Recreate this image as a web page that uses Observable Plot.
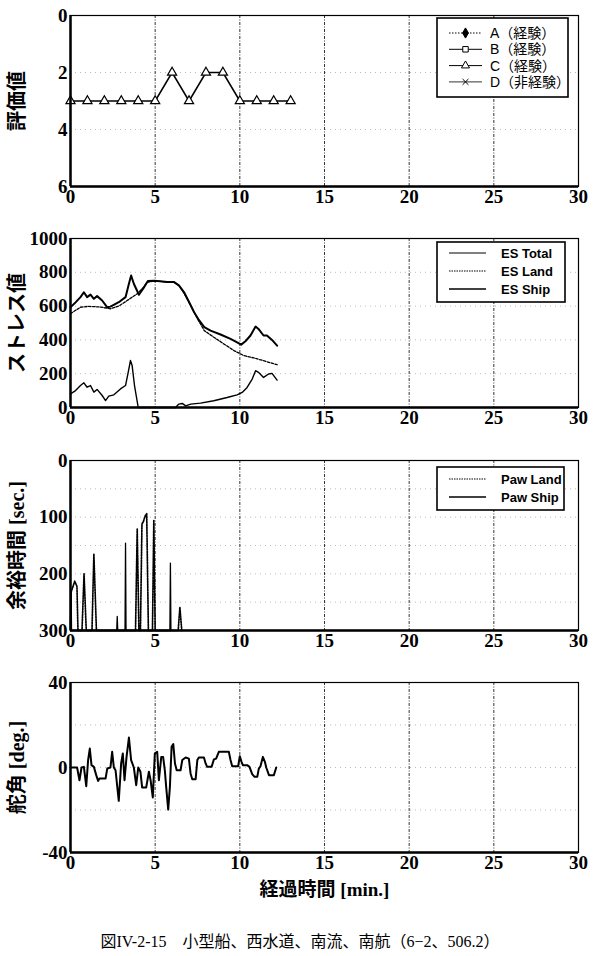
<!DOCTYPE html>
<html><head><meta charset="utf-8">
<script src="https://cdn.jsdelivr.net/npm/d3@7"></script>
<script src="https://cdn.jsdelivr.net/npm/@observablehq/plot@0.6"></script>
<style>
body{margin:0;background:#fff;}
#wrap{position:relative;width:600px;height:956px;background:#fff;overflow:hidden}
#wrap > svg{position:absolute;left:0}
.caption{position:absolute;top:932px;left:0;width:600px;text-align:center;line-height:20px;font-family:"Liberation Serif","Noto Sans CJK JP",serif;font-size:16px;color:#000}
</style></head><body><div id="wrap"></div><script>
// ---------- data ----------
const xTicks = [0, 5, 10, 15, 20, 25, 30];
const xGrid = [5, 10, 15, 20, 25];

// Panel 1: 評価値 (series C only has data)
const evalMinutes = [0,1,2,3,4,5,6,7,8,9,10,11,12,13];
const evalC = [3,3,3,3,3,3,2,3,2,2,3,3,3,3];
const evalTicks = [0, 2, 4, 6];
const evalLegend = ["A（経験）", "B（経験）", "C（経験）", "D（非経験）"];

// Panel 2: ストレス値
const esTotalT = [0,0.3,0.59,0.79,0.98,1.18,1.38,1.57,1.87,2.17,2.36,2.85,3.25,3.45,3.58,3.74,4.04,4.3,4.57,4.92,5.3,5.7,6.1,6.4,6.7,7.0,7.3,7.6,7.9,8.27,8.86,9.45,9.84,10.08,10.33,10.63,10.93,11.1,11.4,11.6,11.9,12.2];
const esTotal  = [593,622,653,682,653,668,643,659,633,593,597,623,653,732,781,732,667,705,748,750,747,743,743,723,683,624,564,515,475,455,432,406,386,372,392,426,479,465,426,426,400,366];
const esLandT = [0,0.3,0.59,1.0,1.38,1.8,2.36,2.85,3.35,3.94,4.3,4.53,4.92,5.3,5.7,6.1,6.4,6.7,7.1,7.5,7.9,8.46,9.06,9.65,10.24,10.83,11.4,12.2];
const esLand  = [555,575,593,598,597,594,584,600,633,673,710,741,748,746,742,742,722,677,604,525,455,416,376,337,307,293,277,253];
const esShipT = [0,0.3,0.59,0.79,0.98,1.18,1.38,1.57,1.87,2.07,2.26,2.56,2.95,3.25,3.41,3.54,3.64,3.78,4.0,6.2,6.4,6.6,6.8,7.1,7.68,8.46,9.25,9.84,10.14,10.43,10.73,10.93,11.1,11.4,11.7,11.9,12.2];
const esShip  = [81,100,130,146,120,130,91,107,71,41,67,75,110,130,209,278,248,130,0,0,20,24,10,20,26,40,59,75,89,119,168,218,208,178,198,202,162];
const esTicks = [0, 200, 400, 600, 800, 1000];
const esLegend = ["ES Total", "ES Land", "ES Ship"];

// Panel 3: 余裕時間 [sec.]
const pawLandT = [0,0.04,0.25,0.38,0.44,0.68,0.8,0.93,1.27,1.38,1.53,3.84,3.94,4.04,4.13,4.22,4.3,4.42,4.5,4.6,4.84,4.92,5.0,6.36,6.46,6.57];
const pawLand  = [300,232,213,222,300,300,200,300,300,165,300,300,121,300,300,112,108,97,94,300,300,105,300,300,259,300];
const pawShipT = [0,0.02,0.04,0.06,2.73,2.76,2.79,3.22,3.25,3.28,5.87,5.9,5.93];
const pawShip  = [300,300,234,300,300,275,300,300,146,300,300,181,300];
const pawTicks = [0, 100, 200, 300];
const pawGrid = [50, 100, 150, 200, 250];
const pawLegend = ["Paw Land", "Paw Ship"];

// Panel 4: 舵角 [deg.]
const rudderT = [0,0.39,0.53,0.65,0.79,0.93,1.04,1.14,1.24,1.38,1.52,1.63,1.71,2.07,2.17,2.36,2.46,2.56,2.66,2.85,2.99,3.09,3.19,3.31,3.45,3.58,3.74,3.88,4.0,4.13,4.23,4.47,4.63,4.73,4.86,4.98,5.12,5.22,5.36,5.47,5.57,5.65,5.77,5.87,5.97,6.07,6.17,6.27,6.5,6.6,6.8,6.99,7.09,7.19,7.39,7.49,7.58,7.88,7.98,8.07,8.33,8.47,8.6,8.76,9.35,9.45,9.55,9.9,10.0,10.1,10.18,10.43,10.57,10.73,10.87,11.03,11.12,11.22,11.36,11.48,11.56,11.72,12.01,12.15];
const rudder  = [0,0,-6,0,0.3,-8.8,3.5,8.9,1.1,0.3,-3.6,-6.3,-5.2,-5.2,-0.5,0,7.4,0,-1.3,-15.7,1.9,6.6,-6,5,14.1,3.5,0,-8.3,0,-2,-9.4,-9.4,-2,-6,-14.1,6.6,7.4,-6,5,5,-1.3,-9.1,-19.8,-9.1,9.7,11,1.9,-1.3,-1.3,3.5,4.7,4.2,-2.8,-5.5,-5.5,3.5,4.7,4.7,1.9,0.3,0.3,3.8,4.2,7.4,7.4,3.5,0.6,0.6,5.3,2.7,1.1,1.1,0.3,-3.1,-4.4,-4.4,-0.5,0.6,5,2.7,0,-3.6,-3.6,0];
const rudderTicks = [-40, 0, 40];
const rudderGrid = [-20, 0, 20];

const yLabels = ["評価値", "ストレス値", "余裕時間 [sec.]", "舵角 [deg.]"];
const xLabel = "経過時間 [min.]";
const caption = "図IV-2-15　小型船、西水道、南流、南航（6−2、506.2）";

// ---------- helpers ----------
const toRows = (ts, vs) => ts.map((t, i) => ({t, v: vs[i]}));
const SERIF = "'Liberation Serif','Noto Sans CJK JP',serif";
const plain = d => String(d);
const wrap = document.getElementById("wrap");

function panel({top, frameH, mb = 30, yDomain, reverse = false, bottom, yTicks, yGrid, yLabel, marks, extra = []}) {
  const mt = 15;
  const svg = Plot.plot({
    width: 600, height: mt + frameH + mb,
    marginLeft: 70, marginRight: 22, marginTop: mt, marginBottom: mb,
    style: {fontFamily: SERIF, fontSize: "19px", fontWeight: "bold", background: "transparent", color: "#000"},
    x: {domain: [0, 30]},
    y: {domain: yDomain, reverse},
    marks: [
      Plot.ruleY(yGrid, {stroke: "#bbb", strokeDasharray: "1,4", strokeWidth: 1}),
      Plot.ruleX(xGrid, {stroke: "#333", strokeDasharray: "3,1.5,1,1.5", strokeWidth: 1}),
      ...marks,
      Plot.frame({stroke: "#000", strokeWidth: 1.2}),
      Plot.ruleX([0], {stroke: "#000", strokeWidth: 2.5}),
      Plot.ruleY([bottom], {stroke: "#000", strokeWidth: 2.5}),
      Plot.axisX(xTicks, {tickSize: 0, tickPadding: 3, label: null, tickFormat: plain}),
      Plot.axisY(yTicks, {tickSize: 0, tickPadding: 3, label: null, tickFormat: plain}),
      Plot.text([yLabel], {frameAnchor: "left", dx: -53, rotate: -90, textAnchor: "middle", lineAnchor: "middle", fontSize: 20}),
      ...extra
    ]
  });
  svg.style.top = (top - mt) + "px";
  wrap.append(svg);
}

// Panel 1
const evalRows = toRows(evalMinutes, evalC);
panel({top: 15, frameH: 171, yDomain: [0, 6], reverse: true, bottom: 6, yTicks: evalTicks, yGrid: evalTicks, yLabel: yLabels[0],
  marks: [
    Plot.line(evalRows, {x: "t", y: "v", stroke: "#000", strokeWidth: 1.5}),
    Plot.dot(evalRows, {x: "t", y: "v", symbol: "triangle", r: 3.4, fill: "#fff", stroke: "#000", strokeWidth: 1.2})
  ]});

// Panel 2
panel({top: 238, frameH: 169, yDomain: [0, 1000], bottom: 0, yTicks: esTicks, yGrid: [200, 400, 600, 800], yLabel: yLabels[1],
  marks: [
    Plot.line(toRows(esLandT, esLand), {x: "t", y: "v", stroke: "#000", strokeWidth: 1.3, strokeDasharray: "2.5,1.5"}),
    Plot.line(toRows(esShipT, esShip), {x: "t", y: "v", stroke: "#000", strokeWidth: 1.4}),
    Plot.line(toRows(esTotalT, esTotal), {x: "t", y: "v", stroke: "#000", strokeWidth: 2})
  ]});

// Panel 3
panel({top: 460, frameH: 170, yDomain: [0, 300], reverse: true, bottom: 300, yTicks: pawTicks, yGrid: pawGrid, yLabel: yLabels[2],
  marks: [
    Plot.line(toRows(pawLandT, pawLand), {x: "t", y: "v", stroke: "#000", strokeWidth: 1.7, strokeDasharray: "1.5,1.2"}),
    Plot.line(toRows(pawShipT, pawShip), {x: "t", y: "v", stroke: "#000", strokeWidth: 1.3})
  ]});

// Panel 4
panel({top: 682, frameH: 170, mb: 55, yDomain: [-40, 40], bottom: -40, yTicks: rudderTicks, yGrid: rudderGrid, yLabel: yLabels[3],
  marks: [
    Plot.line(toRows(rudderT, rudder), {x: "t", y: "v", stroke: "#000", strokeWidth: 2})
  ],
  extra: [Plot.text([xLabel], {frameAnchor: "bottom", dy: 37, textAnchor: "middle", lineAnchor: "middle", fontSize: 19})]
});

// ---------- legends (overlay) ----------
const ov = d3.select(wrap).append("svg").attr("width", 600).attr("height", 956).style("top", "0px").style("pointer-events", "none");
function legend(box, rows, o) {
  const g = ov.append("g");
  g.append("rect").attr("x", box.x).attr("y", box.y).attr("width", box.w).attr("height", box.h)
    .attr("fill", "#fff").attr("stroke", "#000").attr("stroke-width", 1.6);
  rows.forEach((r, i) => {
    const y = box.y + o.row0 + i * o.gap;
    g.append("line").attr("x1", o.s0).attr("x2", o.s1).attr("y1", y).attr("y2", y)
      .attr("stroke", "#000").attr("stroke-width", r.w).attr("stroke-dasharray", r.dash || null);
    if (r.symbol) {
      g.append("path").attr("d", d3.symbol(r.symbol, r.size)())
        .attr("transform", `translate(${(o.s0 + o.s1) / 2},${y})`)
        .attr("fill", r.fill).attr("stroke", "#000").attr("stroke-width", 1);
    }
    g.append("text").attr("x", o.tx).attr("y", y).attr("dy", "0.35em").text(r.label)
      .style("font-family", o.font).style("font-size", o.size + "px").style("font-weight", o.weight);
  });
}
legend({x: 437, y: 18, w: 131, h: 79}, [
  {label: evalLegend[0], w: 1, dash: "1.5,1.5", symbol: d3.symbolDiamond, size: 30, fill: "#000"},
  {label: evalLegend[1], w: 1, symbol: d3.symbolSquare, size: 30, fill: "#fff"},
  {label: evalLegend[2], w: 1, symbol: d3.symbolTriangle, size: 28, fill: "#fff"},
  {label: evalLegend[3], w: 0.8, symbol: d3.symbolTimes, size: 24, fill: "#000"}
], {row0: 15, gap: 16.3, s0: 449, s1: 482, tx: 490, font: "'Liberation Sans','Noto Sans CJK JP',sans-serif", size: 14, weight: "normal"});

legend({x: 437, y: 242, w: 128, h: 60}, [
  {label: esLegend[0], w: 1},
  {label: esLegend[1], w: 1.2, dash: "1.5,1"},
  {label: esLegend[2], w: 1.6}
], {row0: 11, gap: 18, s0: 449, s1: 486, tx: 501, font: "'Liberation Sans',sans-serif", size: 13, weight: "bold"});

legend({x: 437, y: 467, w: 127, h: 43}, [
  {label: pawLegend[0], w: 1.2, dash: "1.5,1"},
  {label: pawLegend[1], w: 1.6}
], {row0: 12, gap: 18, s0: 449, s1: 486, tx: 501, font: "'Liberation Sans',sans-serif", size: 13, weight: "bold"});

const cap = document.createElement("div");
cap.className = "caption";
cap.textContent = caption;
wrap.append(cap);
</script></body></html>
